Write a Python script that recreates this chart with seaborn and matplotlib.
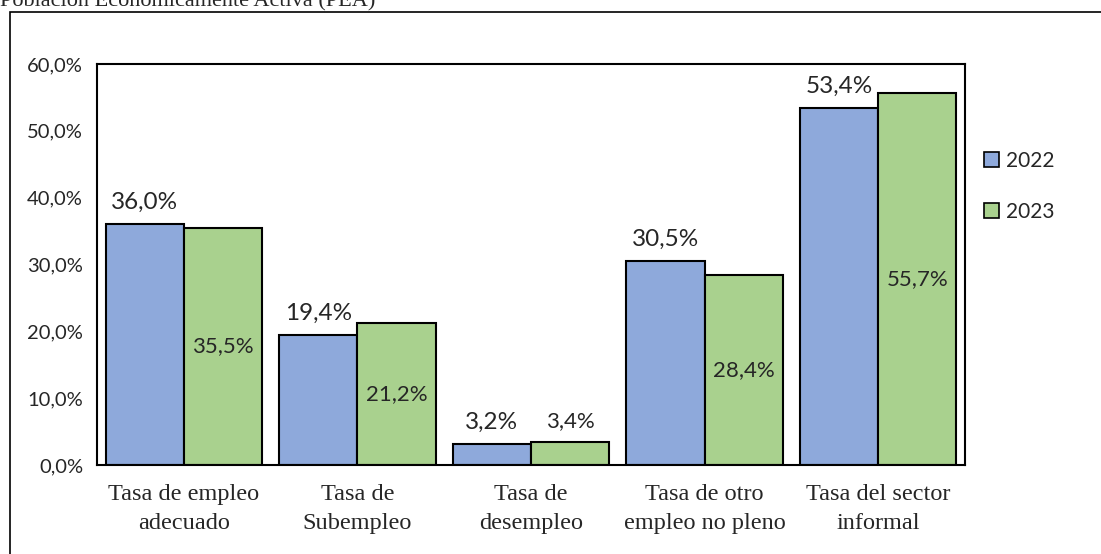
import matplotlib
matplotlib.use('Agg')
import matplotlib.pyplot as plt
import matplotlib.patches as patches
import numpy as np
import pandas as pd
import seaborn as sns

categorias = ['Tasa de empleo\nadecuado', 'Tasa de\nSubempleo', 'Tasa de\ndesempleo',
              'Tasa de otro\nempleo no pleno', 'Tasa del sector\ninformal']
anios = ['2022', '2023']
valores_2022 = [36.0, 19.4, 3.2, 30.5, 53.4]
valores_2023 = [35.5, 21.2, 3.4, 28.4, 55.7]
colores = ['#8EA9DB', '#A9D18E']
y_ticks = [0, 10, 20, 30, 40, 50, 60]


def pct(v):
    return f'{v:.1f}%'.replace('.', ',')


df = pd.DataFrame({
    'categoria': categorias * 2,
    'anio': [anios[0]] * 5 + [anios[1]] * 5,
    'valor': valores_2022 + valores_2023,
})

sns.set_style('white')
plt.rcParams['font.family'] = ['Lato', 'DejaVu Sans']

fig = plt.figure(figsize=(11.01, 5.54), dpi=100)
ax = fig.add_axes([0.0881, 0.1606, 0.7884, 0.7239])

sns.barplot(data=df, x='categoria', y='valor', hue='anio', palette=colores, saturation=1,
            width=0.9, edgecolor='black', linewidth=1.5, ax=ax)

ax.set_ylim(0, 60)
ax.set_xlim(-0.5, 4.5)
ax.set_yticks(y_ticks)
ax.set_yticklabels([pct(t) for t in y_ticks], fontsize=14.5)
ax.tick_params(axis='y', length=0, pad=10)
ax.tick_params(axis='x', length=0, pad=14)
for lbl in ax.get_xticklabels():
    lbl.set_fontfamily('Liberation Serif')
    lbl.set_fontsize(17.5)
    lbl.set_linespacing(1.45)
ax.set_xlabel('')
ax.set_ylabel('')
for s in ax.spines.values():
    s.set_visible(True)
    s.set_color('black')
    s.set_linewidth(1.5)

c22, c23 = ax.containers[0], ax.containers[1]
ax.bar_label(c22, labels=[pct(v) for v in valores_2022], padding=8, fontsize=17.5)
ax.bar_label(c23, labels=[pct(v) if v >= 10 else '' for v in valores_2023],
             label_type='center', fontsize=16)
ax.bar_label(c23, labels=[pct(v) if v < 10 else '' for v in valores_2023],
             padding=8, fontsize=16)

leg = ax.legend(loc='center left', bbox_to_anchor=(0.877, 0.664), bbox_transform=fig.transFigure,
                frameon=False, fontsize=15, handlelength=0.7, handleheight=0.7,
                handletextpad=0.35, labelspacing=1.5)
for h in leg.legend_handles:
    h.set_edgecolor('black')
    h.set_linewidth(1.2)

# outer frame of the original figure, partly cut off
fig.patches.append(patches.Rectangle((10 / 1101, -0.05), 1.2, (554 - 12) / 554 + 0.05,
                                     transform=fig.transFigure, fill=False,
                                     edgecolor='black', linewidth=1.2))
fig.text(0, 1 - 6 / 554, 'Población Económicamente Activa (PEA)',
         family='Liberation Serif', fontsize=16, va='baseline', ha='left')

fig.savefig('out.png', dpi=100)
